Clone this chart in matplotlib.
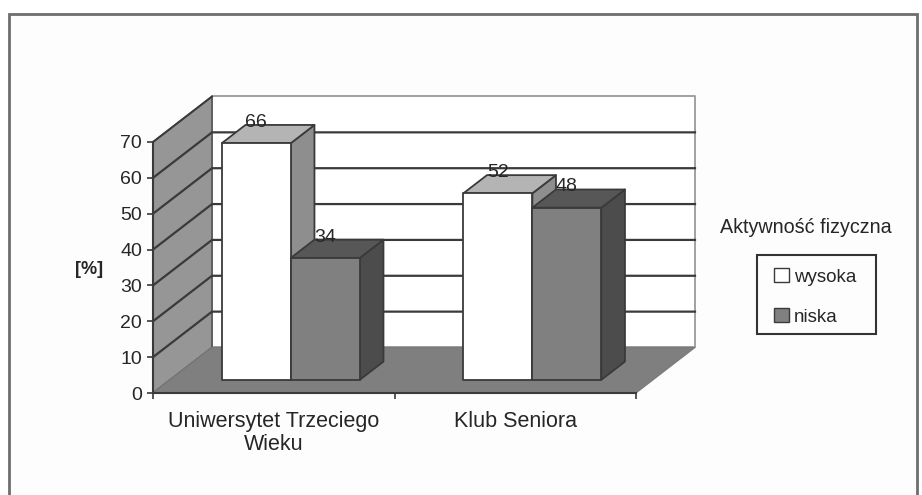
import matplotlib
matplotlib.use("Agg")
import matplotlib.pyplot as plt
from matplotlib.patches import Polygon, Patch, Rectangle

plt.rcParams["font.family"] = ["Liberation Sans", "DejaVu Sans"]

categories = ["Uniwersytet Trzeciego\nWieku", "Klub Seniora"]
wysoka = [66, 52]
niska = [34, 48]
series_names = ["wysoka", "niska"]
y_ticks = [0, 10, 20, 30, 40, 50, 60, 70]
y_label = "[%]"
legend_title = "Aktywność fizyczna"

W, H = 922, 495
TEXT = "#262626"
LINE = "#3a3a3a"

# depth of the fake 3d box, in data units (x in categories, y in percent)
DX = 59 / 241.5
DY = 45.5 / 3.585
BAR_W = 1 / 3.5
D0, D1 = 0.29, 0.69


def p(x, v, d=0.0):
    return (x + d * DX, v + d * DY)


def poly(points, color, z, edge=LINE, lw=1.3):
    ax.add_patch(Polygon(points, closed=True, facecolor=color, edgecolor=edge,
                         linewidth=lw, zorder=z, clip_on=False, joinstyle="round"))


def bar3d(x0, val, front, top, side, z):
    x1 = x0 + BAR_W
    poly([p(x0, 0, D0), p(x1, 0, D0), p(x1, val, D0), p(x0, val, D0)], front, z + 0.2)
    poly([p(x0, val, D0), p(x1, val, D0), p(x1, val, D1), p(x0, val, D1)], top, z + 0.1)
    poly([p(x1, 0, D0), p(x1, 0, D1), p(x1, val, D1), p(x1, val, D0)], side, z)
    ax.annotate(str(val), xy=p(x0 + BAR_W / 2, val, D0), xytext=(0, 15),
                textcoords="offset points", ha="center", va="center",
                fontsize=14, color=TEXT, zorder=z + 5)


fig = plt.figure(figsize=(W / 100, H / 100), dpi=100, facecolor="white")

# outer chart frame, runs off the bottom of the picture
fig.add_artist(Rectangle((9 / W, -0.02), (917 - 9) / W, 1.02 - 14 / H, transform=fig.transFigure,
                         facecolor="#fdfdfd", edgecolor="#6e6e6e", linewidth=2, zorder=-5))

ax = fig.add_axes([153 / W, 1 - 393 / H, (636 - 153) / W, (393 - 142) / H])
ax.set_xlim(0, 2)
ax.set_ylim(0, 70)
ax.patch.set_visible(False)
for s in ["top", "right"]:
    ax.spines[s].set_visible(False)
for s in ["left", "bottom"]:
    ax.spines[s].set_color(LINE)
    ax.spines[s].set_linewidth(1.5)

# walls and floor
poly([p(0, 0, 1), p(2, 0, 1), p(2, 70, 1), p(0, 70, 1)], "white", 1, edge="#9a9a9a", lw=1.3)
poly([p(0, 0, 0), p(0, 70, 0), p(0, 70, 1), p(0, 0, 1)], "#969696", 1.1, edge="#555555", lw=1.2)

for v in y_ticks[1:-1]:
    ax.plot(*zip(p(0, v, 0), p(0, v, 1), p(2, v, 1)), color=LINE, lw=1.6, zorder=1.5, clip_on=False)
ax.plot(*zip(p(0, 70, 0), p(0, 70, 1)), color=LINE, lw=1.4, zorder=1.5, clip_on=False)

poly([p(0, 0, 0), p(2, 0, 0), p(2, 0, 1), p(0, 0, 1)], "#7f7f7f", 1.6, edge="#7a7a7a", lw=0.8)

# bars
for i in range(len(categories)):
    x0 = i + (1 - 2 * BAR_W) / 2
    bar3d(x0, wysoka[i], "white", "#b4b4b4", "#8e8e8e", 3 + i)
    bar3d(x0 + BAR_W, niska[i], "#808080", "#575757", "#4c4c4c", 3.5 + i)

ax.set_yticks(y_ticks)
ax.set_xticks([0, 1, 2])
ax.set_xticklabels([])
ax.set_xticks([0.5, 1.5], labels=categories, minor=True)
ax.tick_params(axis="x", which="minor", length=0, pad=13, labelsize=15.5, labelcolor=TEXT)
ax.tick_params(axis="x", which="major", length=4, width=1.2, color=LINE)
ax.tick_params(axis="y", length=4, width=1.2, color=LINE, labelsize=14, labelcolor=TEXT, pad=4)
for t in ax.get_xticklabels(minor=True):
    t.set_linespacing(1.1)

fig.text(89 / W, 1 - 270 / H, y_label, ha="center", va="center", fontsize=13,
         fontweight="bold", color=TEXT)
fig.text(806 / W, 1 - 227 / H, legend_title, ha="center", va="center", fontsize=14.2, color=TEXT)

# legend box is wider than its entries, so it gets its own rectangle
fig.add_artist(Rectangle((757 / W, 1 - 334 / H), 119 / W, 79 / H, transform=fig.transFigure,
                         facecolor="#fdfdfd", edgecolor="#333333", linewidth=1.5, zorder=-4))
handles = [Patch(facecolor="white", edgecolor=LINE, label=series_names[0]),
           Patch(facecolor="#808080", edgecolor=LINE, label=series_names[1])]
fig.legend(handles=handles, loc="center", bbox_to_anchor=(815.5 / W, 1 - 297 / H),
           fontsize=13.5, frameon=False, labelspacing=1.2, handlelength=0.75,
           handleheight=0.75, handletextpad=0.3, borderpad=0, borderaxespad=0,
           labelcolor=TEXT)

fig.savefig("out.png", dpi=100)
